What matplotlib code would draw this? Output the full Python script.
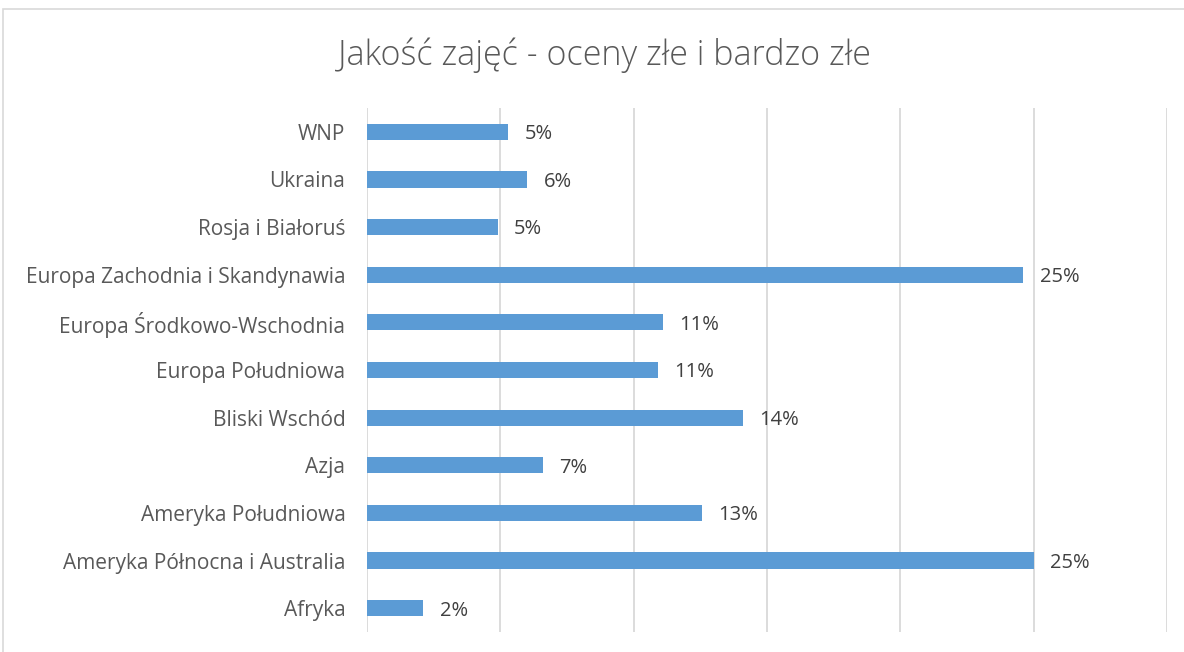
import matplotlib
matplotlib.use("Agg")
import matplotlib.pyplot as plt
from matplotlib.patches import Rectangle

categories = ["WNP", "Ukraina", "Rosja i Białoruś", "Europa Zachodnia i Skandynawia",
              "Europa Środkowo-Wschodnia", "Europa Południowa", "Bliski Wschód", "Azja",
              "Ameryka Południowa", "Ameryka Północna i Australia", "Afryka"]
values = [0.053, 0.060, 0.049, 0.246, 0.111, 0.109, 0.141, 0.066, 0.1255, 0.250, 0.021]
title = "Jakość zajęć - oceny złe i bardzo złe"
xticks = [0, 0.05, 0.10, 0.15, 0.20, 0.25, 0.30]

W, H = 1184, 652
fig = plt.figure(figsize=(W/100, H/100), dpi=100)
fig.patch.set_facecolor("white")

# chart frame
fig.add_artist(Rectangle((3/W, -0.1), 1.2, (H-9)/H + 0.1, transform=fig.transFigure,
                         fill=False, edgecolor="#D9D9D9", linewidth=1.2))

ax = fig.add_axes([367/W, 1-632/H, (1167-367)/W, (632-108)/H])
y = list(range(len(categories)))
ax.barh(y, values, height=0.34, color="#5B9BD5", zorder=3)
ax.set_ylim(len(categories)-0.5, -0.5)
ax.set_xlim(0, 0.30)
ax.set_xticks(xticks)
ax.set_xticklabels([])
ax.tick_params(axis="x", length=0)
ax.tick_params(axis="y", length=0, pad=15.5)
ax.set_yticks(y)
ax.set_yticklabels(categories, fontsize=15, color="#595959", family=["Open Sans", "DejaVu Sans"])
ax.grid(axis="x", color="#D9D9D9", linewidth=1.3, zorder=0)
for s in ax.spines.values():
    s.set_visible(False)

for yi, v in zip(y, values):
    ax.text(v + 0.0062, yi + 0.05, f"{round(v*100):.0f}%", va="center", ha="left",
            fontsize=14.5, color="#404040", family=["Open Sans", "DejaVu Sans"])

fig.text(604/W, 1-55/H, title, ha="center", va="center", fontsize=24.5,
         color="#595959", family=["Open Sans", "DejaVu Sans"], fontweight="light")

fig.savefig("out.png", dpi=100)
